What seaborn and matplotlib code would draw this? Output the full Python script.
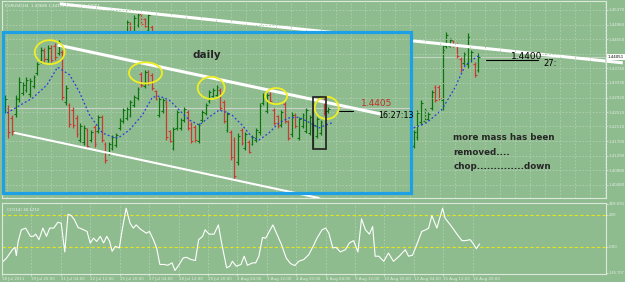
import numpy as np
import matplotlib
matplotlib.use("Agg")
import matplotlib.pyplot as plt
import seaborn as sns
from matplotlib.patches import Rectangle, Ellipse

# ---- daily bars pasted inside the blue box (one per slot, from slot 0) ----
d_high = [1.4299, 1.4271, 1.4243, 1.4299, 1.4349, 1.4335, 1.4349, 1.4347, 1.4355, 1.4391,
          1.4433, 1.4431, 1.4439, 1.4439, 1.4445, 1.4453, 1.4425, 1.4327, 1.4277, 1.4265,
          1.4243, 1.4221, 1.4215, 1.4207, 1.4201, 1.4215, 1.4243, 1.4243, 1.4167, 1.4167,
          1.4187, 1.4193, 1.4235, 1.4263, 1.4265, 1.4285, 1.4299, 1.4321, 1.4363, 1.4369,
          1.4369, 1.4361, 1.4313, 1.4293, 1.4291, 1.4285, 1.4201, 1.4209, 1.4257, 1.4235,
          1.4265, 1.4257, 1.4223, 1.4215, 1.4221, 1.4257, 1.4277, 1.4313, 1.4319, 1.4327,
          1.4319, 1.4285, 1.4251, 1.4201, 1.4181, 1.4193, 1.4207, 1.4195, 1.4173, 1.4187,
          1.4207, 1.4277, 1.4305, 1.4305, 1.4307, 1.4263, 1.4243, 1.4257, 1.4279, 1.4229,
          1.4251, 1.4249, 1.4237, 1.4249, 1.4263, 1.4243, 1.4223, 1.4237, 1.4229, 1.4291,
          1.4265]
d_low = [1.4249, 1.4179, 1.4187, 1.4237, 1.4279, 1.4299, 1.4307, 1.4293, 1.4319, 1.4355,
         1.4389, 1.4391, 1.4391, 1.4391, 1.4397, 1.4411, 1.4285, 1.4271, 1.4209, 1.4207,
         1.4181, 1.4167, 1.4159, 1.4151, 1.4167, 1.4153, 1.4193, 1.4167, 1.4109, 1.4131,
         1.4145, 1.4153, 1.4201, 1.4221, 1.4229, 1.4237, 1.4265, 1.4285, 1.4321, 1.4319,
         1.4327, 1.4313, 1.4285, 1.4237, 1.4249, 1.4173, 1.4167, 1.4145, 1.4201, 1.4201,
         1.4223, 1.4201, 1.4165, 1.4167, 1.4165, 1.4223, 1.4243, 1.4277, 1.4293, 1.4293,
         1.4257, 1.4221, 1.4195, 1.4117, 1.4061, 1.4103, 1.4159, 1.4145, 1.4137, 1.4159,
         1.4167, 1.4187, 1.4271, 1.4249, 1.4277, 1.4215, 1.4207, 1.4209, 1.4221, 1.4173,
         1.4181, 1.4207, 1.4173, 1.4207, 1.4193, 1.4187, 1.4151, 1.4179, 1.4187, 1.4243,
         1.4249]
d_open = [1.4259, 1.4263, 1.4235, 1.4245, 1.4287, 1.4305, 1.4313, 1.4301, 1.4325, 1.4361,
          1.4397, 1.4423, 1.4399, 1.4431, 1.4437, 1.4417, 1.4419, 1.4279, 1.4271, 1.4257,
          1.4235, 1.4173, 1.4167, 1.4201, 1.4173, 1.4209, 1.4199, 1.4237, 1.4161, 1.4137,
          1.4151, 1.4159, 1.4207, 1.4227, 1.4235, 1.4243, 1.4271, 1.4291, 1.4357, 1.4325,
          1.4363, 1.4355, 1.4309, 1.4243, 1.4255, 1.4279, 1.4197, 1.4151, 1.4207, 1.4207,
          1.4229, 1.4251, 1.4217, 1.4209, 1.4171, 1.4229, 1.4249, 1.4283, 1.4297, 1.4299,
          1.4313, 1.4279, 1.4201, 1.4195, 1.4173, 1.4111, 1.4201, 1.4151, 1.4169, 1.4163,
          1.4173, 1.4195, 1.4277, 1.4255, 1.4303, 1.4257, 1.4239, 1.4215, 1.4273, 1.4223,
          1.4189, 1.4243, 1.4179, 1.4213, 1.4199, 1.4193, 1.4159, 1.4185, 1.4193, 1.4285,
          1.4253]
d_close = [1.4289, 1.4195, 1.4199, 1.4291, 1.4335, 1.4327, 1.4341, 1.4337, 1.4349, 1.4385,
           1.4425, 1.4399, 1.4431, 1.4397, 1.4405, 1.4447, 1.4293, 1.4319, 1.4217, 1.4215,
           1.4189, 1.4213, 1.4207, 1.4157, 1.4195, 1.4161, 1.4237, 1.4173, 1.4117, 1.4161,
           1.4181, 1.4187, 1.4229, 1.4257, 1.4259, 1.4279, 1.4293, 1.4315, 1.4327, 1.4363,
           1.4333, 1.4319, 1.4289, 1.4287, 1.4285, 1.4181, 1.4171, 1.4203, 1.4251, 1.4229,
           1.4259, 1.4207, 1.4171, 1.4173, 1.4215, 1.4251, 1.4271, 1.4307, 1.4313, 1.4321,
           1.4263, 1.4227, 1.4245, 1.4125, 1.4073, 1.4185, 1.4165, 1.4189, 1.4141, 1.4181,
           1.4201, 1.4269, 1.4299, 1.4299, 1.4281, 1.4221, 1.4211, 1.4251, 1.4227, 1.4179,
           1.4243, 1.4213, 1.4231, 1.4243, 1.4257, 1.4237, 1.4215, 1.4231, 1.4223, 1.4249,
           1.4261]

# ---- H4 bars of the underlying chart (top, partly hidden by the box) ----
top_start = 34
t_high = [1.4509, 1.4503, 1.4523, 1.4529, 1.4531, 1.4515, 1.4529, 1.4495]
t_low = [1.4453, 1.4453, 1.4453, 1.4489, 1.4495, 1.4489, 1.4475, 1.4453]
t_open = [1.4459, 1.4497, 1.4461, 1.4495, 1.4527, 1.4511, 1.4481, 1.4489]
t_close = [1.4503, 1.4459, 1.4515, 1.4523, 1.4499, 1.4493, 1.4523, 1.4459]

# ---- H4 bars on the right of the box ----
right_start = 114
r_high = [1.4201, 1.4257, 1.4285, 1.4263, 1.4251, 1.4313, 1.4327, 1.4327, 1.4439, 1.4475,
          1.4459, 1.4453, 1.4445, 1.4405, 1.4419, 1.4473, 1.4425, 1.4391, 1.4417]
r_low = [1.4151, 1.4173, 1.4215, 1.4221, 1.4229, 1.4257, 1.4279, 1.4285, 1.4257, 1.4431,
         1.4433, 1.4433, 1.4403, 1.4363, 1.4383, 1.4375, 1.4391, 1.4349, 1.4363]
r_open = [1.4157, 1.4181, 1.4223, 1.4227, 1.4233, 1.4263, 1.4321, 1.4321, 1.4285, 1.4437,
          1.4437, 1.4449, 1.4439, 1.4399, 1.4389, 1.4385, 1.4397, 1.4385, 1.4369]
r_close = [1.4195, 1.4249, 1.4277, 1.4257, 1.4247, 1.4307, 1.4285, 1.4291, 1.4425, 1.4467,
           1.4453, 1.4437, 1.4409, 1.4369, 1.4413, 1.4461, 1.4419, 1.4355, 1.4405]

# ---- moving averages (blue dotted) ----
ma_in_x = [0.6, 3.3, 7.8, 11.7, 14.7, 18.1, 20.8, 23.6, 27.2, 30.6, 31.9, 34.7, 38.3, 41.1,
           43.1, 45.8, 48.6, 51.4, 54.2, 56.9, 59.7, 61.7, 63.3, 66.1, 68.9, 70.8, 73.6,
           76.4, 79.2, 81.9, 84.7, 87.5, 89.4, 91.1]
ma_in_y = [1.4249, 1.4265, 1.4291, 1.4327, 1.4377, 1.4355, 1.4307, 1.4243, 1.4193, 1.4179,
           1.4181, 1.4201, 1.4243, 1.4293, 1.4296, 1.4285, 1.4257, 1.4229, 1.4215, 1.4237,
           1.4257, 1.4251, 1.4243, 1.4215, 1.4181, 1.4173, 1.4193, 1.4221, 1.4235, 1.4237,
           1.4223, 1.4207, 1.4215, 1.4221]
ma_r_x = [113.9, 117.5, 121.7, 125.4, 128.3, 130.8, 132.5]
ma_r_y = [1.4207, 1.4221, 1.4257, 1.4319, 1.4382, 1.4401, 1.4411]

# ---- CCI(14) ----
cci_x = [-0.9, 0.5, 2.1, 2.8, 3.2, 3.7, 4.6, 5.8, 7.1, 7.9, 8.6, 9.5, 10.6, 11.6, 12.5, 13.6,
         14.8, 15.7, 16.7, 17.6, 18.5, 19.4, 20.4, 21.6, 22.9, 23.8, 24.7, 25.6, 26.6, 27.5,
         28.4, 29.2, 29.9, 30.8, 31.9, 32.7, 33.8, 34.9, 35.8, 36.6, 37.7, 39.4, 40.3, 41.4,
         42.3, 43.2, 44.4, 45.4, 46.6, 47.4, 48.6, 49.7, 50.6, 51.9, 53.1, 54.0, 55.1, 55.8,
         56.9, 58.3, 59.5, 60.5, 61.8, 62.7, 63.4, 64.5, 65.8, 66.7, 67.6, 69.0, 69.9, 70.8,
         71.8, 72.7, 73.8, 74.7, 75.9, 77.1, 78.4, 79.6, 80.8, 81.9, 83.3, 84.7, 86.1, 87.0,
         88.4, 89.4, 90.3, 91.4, 92.3, 93.5, 94.9, 96.0, 97.2, 98.4, 99.4, 100.5, 101.6,
         102.5, 103.2, 104.2, 105.6, 106.9, 108.3, 109.9, 111.6, 112.5, 113.6, 114.8, 116.2,
         117.3, 118.1, 119.0, 120.4, 122.0, 122.7, 124.5, 126.0, 127.4, 128.3, 129.7, 130.6,
         131.4, 132.3]
cci_v = [-102, -71, -19, -4, -56, 33, 106, 117, 65, 65, 79, 44, 117, 65, 117, 117,
         154, 148, -33, 204, 196, 169, 121, 110, 96, 23, 54, 33, 65, 23,
         65, 33, -29, 2, -8, 106, 242, 148, 117, 137, 112, 85, 96, 44,
         -8, -112, -112, -117, -102, -150, -112, -71, -67, -81, -87, 44, 65, 106,
         79, 79, 137, 13, -133, -123, -92, -123, -112, -60, -117, -102, -102, -60,
         58, 54, 100, 137, 75, 13, -71, -106, -119, -92, -81, -50, 10, 54,
         106, 117, 85, -8, -4, -33, -19, 23, 38, -33, 175, 106, 79,
         127, -60, -60, -92, -40, -92, -60, -19, -60, -54, 13, 96,
         106, 117, 196, 117, 242, 179, 127, 79, 38, 38, 44, 17,
         -13, 17]

price_ticks = [1.4537, 1.4496, 1.4455, 1.4374, 1.4333, 1.4292, 1.4251, 1.4211,
               1.4170, 1.4129, 1.4088, 1.4048]
last_price = 1.44051
date_labels = ["18 Jul 2011", "19 Jul 20:00", "21 Jul 04:00", "22 Jul 12:00",
               "25 Jul 20:00", "27 Jul 04:00", "28 Jul 12:00", "29 Jul 20:00",
               "2 Aug 04:00", "3 Aug 12:00", "4 Aug 20:00", "8 Aug 04:00",
               "9 Aug 12:00", "10 Aug 20:00", "12 Aug 04:00", "15 Aug 12:00",
               "16 Aug 20:00"]

BG = "#8fbc8f"
UP = "#0e740e"
DOWN = "#c83a32"
GRID = "#b0d0b0"
LIGHT = "#dde8dd"
SMALL = 2.9

sns.set_theme(style="white", rc={"axes.facecolor": BG, "figure.facecolor": BG,
                                 "axes.edgecolor": LIGHT})
plt.rcParams["font.family"] = ["DejaVu Sans"]

fig = plt.figure(figsize=(6.25, 2.82), dpi=100)
ax = fig.add_axes([0.003, 1 - 198 / 282, 0.9664, 197 / 282])
axc = fig.add_axes([0.003, 1 - 274 / 282, 0.9664, 71 / 282])

XMIN, XMAX = -0.83, 167.5
ax.set_xlim(XMIN, XMAX)
ax.set_ylim(1.4011, 1.4562)


def draw_bars(a, start, o, h, l, c, z):
    o, h, l, c = map(np.asarray, (o, h, l, c))
    x = np.arange(len(o)) + start
    col = np.where(c >= o, UP, DOWN)
    a.vlines(x, l, h, colors=col, lw=0.9, zorder=z)
    a.hlines(o, x - 0.5, x, colors=col, lw=0.8, zorder=z)
    a.hlines(c, x, x + 0.5, colors=col, lw=0.8, zorder=z)


# underlying H4 chart
ax.axhline(last_price, color="#c4d4c4", lw=0.8, zorder=1)
draw_bars(ax, top_start, t_open, t_high, t_low, t_close, 2)
draw_bars(ax, right_start, r_open, r_high, r_low, r_close, 2)
ax.plot([15.3, 172.2], [1.4554, 1.4389], color="white", lw=2.2, zorder=2.5,
        clip_on=False, solid_capstyle="butt")
sns.lineplot(x=ma_r_x, y=ma_r_y, ax=ax, color="#2a3ce0", lw=0.9,
             linestyle=(0, (1.5, 1.8)), zorder=2.6)

# opaque pasted daily chart
box = (-0.56, 1.40246, 113.86, 0.04508)
ax.add_patch(Rectangle(box[:2], box[2], box[3], facecolor=BG, edgecolor="none", zorder=3))

# grid (dotted), drawn over the pasted area as well
for gy in price_ticks + [1.4414]:
    ax.axhline(gy, color=GRID, lw=0.6, ls=(0, (2, 2)), zorder=3.2)
for gx in np.arange(0.5, XMAX, 15 / 3.6):
    ax.axvline(gx, color=GRID, lw=0.6, ls=(0, (2, 2)), zorder=3.2)

ax.plot([box[0], box[0] + box[2]], [1.4262, 1.4262], color="#c8d2c8", lw=0.8, zorder=3.5)
draw_bars(ax, 0, d_open, d_high, d_low, d_close, 4)
sns.lineplot(x=ma_in_x, y=ma_in_y, ax=ax, color="#2a3ce0", lw=0.9,
             linestyle=(0, (1.5, 1.8)), zorder=4.5)

# trend lines
ax.plot([14.7, 104.7], [1.4439, 1.4246], color="white", lw=2.2, zorder=5,
        solid_capstyle="butt")
ax.plot([2.8, 87.5], [1.4193, 1.4011], color="white", lw=1.5, zorder=5)
ax.plot([93.0, 97.0], [1.4254, 1.4254], color="black", lw=0.8, zorder=5)
ax.plot([134.2, 148.6], [1.4397, 1.4397], color="black", lw=0.8, zorder=5)

# yellow circles and black marker box
for cx, cy, w, h in [(12.5, 1.4419, 8.3, 0.0067), (39.2, 1.4361, 9.2, 0.0059),
                     (57.5, 1.4319, 7.5, 0.0062), (75.6, 1.4296, 6.1, 0.0045),
                     (89.7, 1.4263, 6.7, 0.0062)]:
    ax.add_patch(Ellipse((cx, cy), w, h, fill=False, edgecolor="#eeee22", lw=1.3, zorder=6))
ax.add_patch(Rectangle((85.8, 1.4148), 3.6, 0.0145, fill=False, edgecolor="#1e1e1e",
                       lw=1.2, zorder=6))
ax.add_patch(Rectangle(box[:2], box[2], box[3], fill=False, edgecolor="#1ea0e6",
                       lw=2.3, zorder=6.5, clip_on=False))

# texts
ax.text(52.2, 1.4411, "daily", fontsize=7.5, fontweight="bold", va="center", zorder=7)
ax.text(99.2, 1.4274, "1.4405", fontsize=6.5, color="#c0302a", va="center", zorder=7)
ax.text(104.0, 1.4243, "16:27:13", fontsize=5.8, color="black", va="center", zorder=7)
ax.text(141.1, 1.4408, "1.4400", fontsize=6.5, color="black", va="center", zorder=4)
ax.text(150.0, 1.4386, "27:", fontsize=6, color="black", va="center", zorder=7)
for ty, line in zip([1.4181, 1.4139, 1.4100],
                    ["more mass has been", "removed....", "chop..............down"]):
    ax.text(125.0, ty, line, fontsize=6.3, fontweight="semibold", va="center", zorder=7)
ax.text(0.006, 0.985, "EURUSD,H4  1.43680 1.44172 1.43631 1.44051", transform=ax.transAxes,
        fontsize=SMALL, color="#eef2ee", va="top")

# right price scale
ax.yaxis.tick_right()
ax.set_yticks(price_ticks)
ax.set_yticklabels([f"{p:.5f}" for p in price_ticks])
ax.tick_params(axis="y", labelsize=SMALL, labelcolor="#e4ece4", color=LIGHT, length=1.5,
               width=0.5, pad=0.8, right=True)
ax.set_xticks([])
ax.text(1.003, (last_price - 1.4011) / (1.4562 - 1.4011), f"{last_price:.5f}",
        transform=ax.transAxes, fontsize=SMALL, color="black", va="center",
        bbox=dict(boxstyle="square,pad=0.2", fc="white", ec="none"))
for s in ax.spines.values():
    s.set_color(LIGHT)
    s.set_linewidth(0.8)

# CCI panel
axc.set_xlim(XMIN, XMAX)
axc.set_ylim(-172, 275)
tick_x = -0.8 + 8.2 * np.arange(len(date_labels))
for gx in tick_x:
    axc.axvline(gx, color=GRID, lw=0.6, ls=(0, (2, 2)), zorder=0.5)
for lvl in [200, 0]:
    axc.axhline(lvl, color="#e4e41a", lw=0.8, ls=(0, (3, 2)), zorder=1)
sns.lineplot(x=cci_x, y=cci_v, ax=axc, color="white", lw=0.8, sort=False, zorder=2)
axc.set_xticks(tick_x)
axc.set_xticklabels(date_labels, ha="left")
axc.yaxis.tick_right()
axc.set_yticks([269.7, 200, 0, -165.7])
axc.set_yticklabels(["269.691", "200", "0.00", "-165.707"])
axc.tick_params(axis="both", labelsize=SMALL, labelcolor="#e4ece4", color=LIGHT, length=1.5,
                width=0.5, pad=0.8)
axc.tick_params(axis="x", pad=0.5, bottom=True)
axc.tick_params(axis="y", right=True, pad=0.5)
axc.get_yticklabels()[-1].set_fontsize(2.5)
axc.set_xlabel("")
axc.set_ylabel("")
ax.set_xlabel("")
ax.set_ylabel("")
axc.text(0.008, 0.93, "CCI(14) 30.1210", transform=axc.transAxes, fontsize=SMALL,
         color="#eef2ee", va="top")
for s in axc.spines.values():
    s.set_color(LIGHT)
    s.set_linewidth(0.8)

fig.savefig("out.png", dpi=100, facecolor=BG)
